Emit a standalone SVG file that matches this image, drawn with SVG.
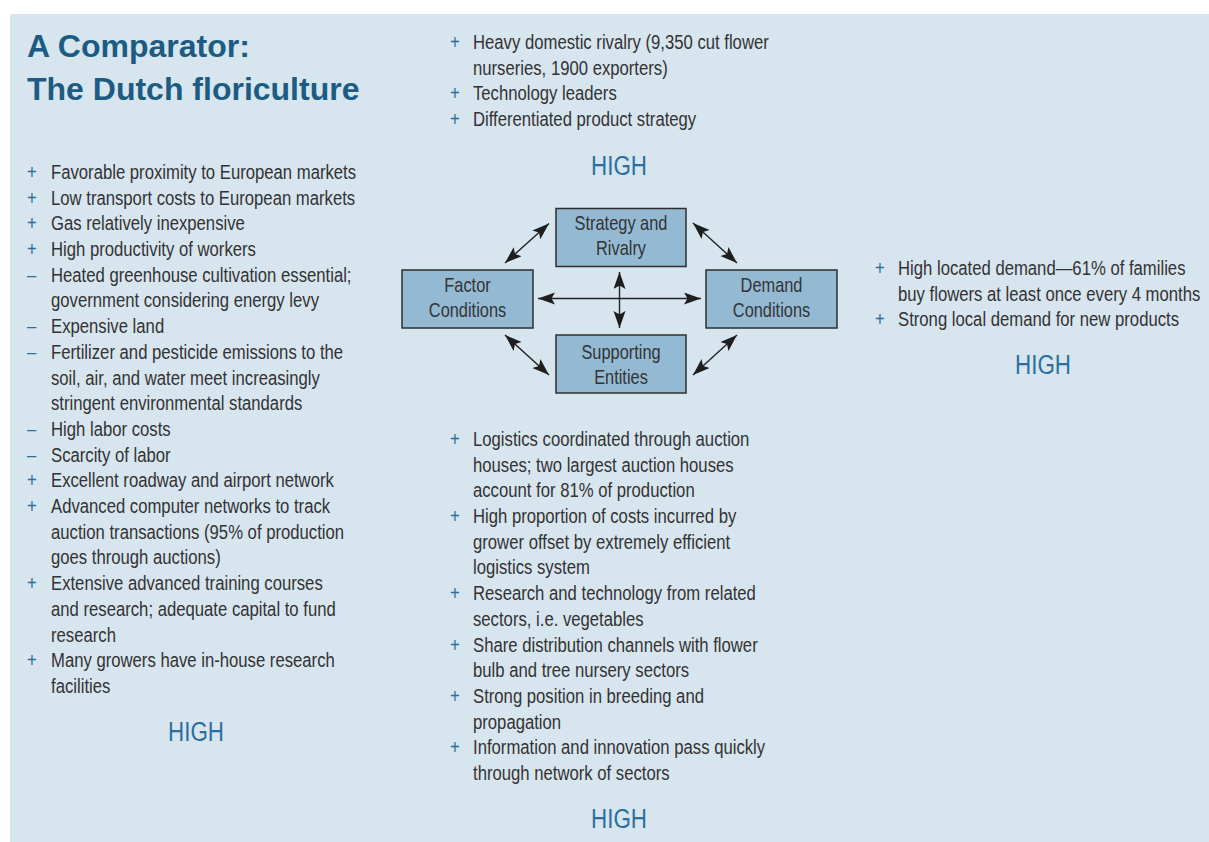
<svg xmlns="http://www.w3.org/2000/svg" width="1209" height="842" viewBox="0 0 1209 842">
  <style>
    .title { font-family: "Liberation Sans", Arial, sans-serif; font-weight: bold; font-size: 32px; fill: #1d5c82; }
    .body { font-family: "Liberation Sans", Arial, sans-serif; font-size: 20px; fill: #333333; }
    .bullet { font-family: "Liberation Sans", Arial, sans-serif; font-size: 20px; fill: #2b6e99; }
    .high { font-family: "Liberation Sans", Arial, sans-serif; font-size: 28px; fill: #2c6f9c; text-anchor: middle; }
    .box { fill: #94bad3; stroke: #2e2e2e; stroke-width: 1.5; }
    .label { font-family: "Liberation Sans", Arial, sans-serif; font-size: 20px; fill: #333; text-anchor: middle; }
    .link { stroke: #222; stroke-width: 1.4; fill: none; marker-start: url(#head); marker-end: url(#head); }
  </style>
  <defs>
    <marker id="head" markerUnits="userSpaceOnUse" markerWidth="18" markerHeight="13" refX="17" refY="6" orient="auto-start-reverse">
      <path d="M0,0 L17,6 L0,12 L3.5,6 z" fill="#1e1e1e"/>
    </marker>
  </defs>

  <rect x="0" y="0" width="1209" height="842" fill="#ffffff"/>
  <rect x="10" y="14" width="1199" height="828" fill="#d7e5ef"/>

  <!-- heading -->
  <g id="heading">
    <text class="title" x="27" y="57">A Comparator:</text>
    <text class="title" x="27" y="100">The Dutch floriculture</text>
  </g>

  <!-- strategy and rivalry notes (top) -->
  <g id="notes-strategy">
    <g transform="translate(450 0) scale(0.835 1)" class="bullet">
      <text x="0" y="49">+</text>
      <text x="0" y="100.4">+</text>
      <text x="0" y="126.1">+</text>
    </g>
    <g transform="translate(473 0) scale(0.835 1)">
      <text class="body" x="0" y="49">Heavy domestic rivalry (9,350 cut flower</text>
      <text class="body" x="0" y="74.7">nurseries, 1900 exporters)</text>
      <text class="body" x="0" y="100.4">Technology leaders</text>
      <text class="body" x="0" y="126.1">Differentiated product strategy</text>
    </g>
    <text class="high" transform="translate(619 175) scale(0.8 1)">HIGH</text>
  </g>

  <!-- factor conditions notes (left) -->
  <g id="notes-factor">
    <g transform="translate(27 0) scale(0.835 1)" class="bullet">
      <text x="0" y="179">+</text>
      <text x="0" y="204.7">+</text>
      <text x="0" y="230.4">+</text>
      <text x="0" y="256.1">+</text>
      <text x="0" y="281.8">–</text>
      <text x="0" y="333.2">–</text>
      <text x="0" y="358.9">–</text>
      <text x="0" y="436">–</text>
      <text x="0" y="461.7">–</text>
      <text x="0" y="487.4">+</text>
      <text x="0" y="513.1">+</text>
      <text x="0" y="590.2">+</text>
      <text x="0" y="667.3">+</text>
    </g>
    <g transform="translate(51 0) scale(0.835 1)">
      <text class="body" x="0" y="179">Favorable proximity to European markets</text>
      <text class="body" x="0" y="204.7">Low transport costs to European markets</text>
      <text class="body" x="0" y="230.4">Gas relatively inexpensive</text>
      <text class="body" x="0" y="256.1">High productivity of workers</text>
      <text class="body" x="0" y="281.8">Heated greenhouse cultivation essential;</text>
      <text class="body" x="0" y="307.5">government considering energy levy</text>
      <text class="body" x="0" y="333.2">Expensive land</text>
      <text class="body" x="0" y="358.9">Fertilizer and pesticide emissions to the</text>
      <text class="body" x="0" y="384.6">soil, air, and water meet increasingly</text>
      <text class="body" x="0" y="410.3">stringent environmental standards</text>
      <text class="body" x="0" y="436">High labor costs</text>
      <text class="body" x="0" y="461.7">Scarcity of labor</text>
      <text class="body" x="0" y="487.4">Excellent roadway and airport network</text>
      <text class="body" x="0" y="513.1">Advanced computer networks to track</text>
      <text class="body" x="0" y="538.8">auction transactions (95% of production</text>
      <text class="body" x="0" y="564.5">goes through auctions)</text>
      <text class="body" x="0" y="590.2">Extensive advanced training courses</text>
      <text class="body" x="0" y="615.9">and research; adequate capital to fund</text>
      <text class="body" x="0" y="641.6">research</text>
      <text class="body" x="0" y="667.3">Many growers have in-house research</text>
      <text class="body" x="0" y="693">facilities</text>
    </g>
    <text class="high" transform="translate(196 741) scale(0.8 1)">HIGH</text>
  </g>

  <!-- demand conditions notes (right) -->
  <g id="notes-demand">
    <g transform="translate(875 0) scale(0.835 1)" class="bullet">
      <text x="0" y="275">+</text>
      <text x="0" y="326.4">+</text>
    </g>
    <g transform="translate(898 0) scale(0.835 1)">
      <text class="body" x="0" y="275">High located demand—61% of families</text>
      <text class="body" x="0" y="300.7">buy flowers at least once every 4 months</text>
      <text class="body" x="0" y="326.4">Strong local demand for new products</text>
    </g>
    <text class="high" transform="translate(1043 374) scale(0.8 1)">HIGH</text>
  </g>

  <!-- supporting entities notes (bottom) -->
  <g id="notes-supporting">
    <g transform="translate(450 0) scale(0.835 1)" class="bullet">
      <text x="0" y="446">+</text>
      <text x="0" y="523.1">+</text>
      <text x="0" y="600.2">+</text>
      <text x="0" y="651.6">+</text>
      <text x="0" y="703">+</text>
      <text x="0" y="754.4">+</text>
    </g>
    <g transform="translate(473 0) scale(0.835 1)">
      <text class="body" x="0" y="446">Logistics coordinated through auction</text>
      <text class="body" x="0" y="471.7">houses; two largest auction houses</text>
      <text class="body" x="0" y="497.4">account for 81% of production</text>
      <text class="body" x="0" y="523.1">High proportion of costs incurred by</text>
      <text class="body" x="0" y="548.8">grower offset by extremely efficient</text>
      <text class="body" x="0" y="574.5">logistics system</text>
      <text class="body" x="0" y="600.2">Research and technology from related</text>
      <text class="body" x="0" y="625.9">sectors, i.e. vegetables</text>
      <text class="body" x="0" y="651.6">Share distribution channels with flower</text>
      <text class="body" x="0" y="677.3">bulb and tree nursery sectors</text>
      <text class="body" x="0" y="703">Strong position in breeding and</text>
      <text class="body" x="0" y="728.7">propagation</text>
      <text class="body" x="0" y="754.4">Information and innovation pass quickly</text>
      <text class="body" x="0" y="780.1">through network of sectors</text>
    </g>
    <text class="high" transform="translate(619 828) scale(0.8 1)">HIGH</text>
  </g>

  <!-- connectors between the four determinants -->
  <g id="connectors">
    <line class="link" x1="538" y1="298.5" x2="701" y2="298.5"/>
    <line class="link" x1="619.5" y1="272" x2="619.5" y2="328"/>
    <line class="link" x1="505" y1="263" x2="549" y2="223.5"/>
    <line class="link" x1="693" y1="223" x2="737" y2="263"/>
    <line class="link" x1="505" y1="335" x2="549" y2="375"/>
    <line class="link" x1="737" y1="335" x2="693" y2="375"/>
  </g>

  <!-- determinant boxes -->
  <g id="node-strategy">
    <rect class="box" x="556" y="208.5" width="130" height="58"/>
    <g transform="translate(621 0) scale(0.82 1)">
      <text class="label" x="0" y="230">Strategy and</text>
      <text class="label" x="0" y="255">Rivalry</text>
    </g>
  </g>
  <g id="node-factor">
    <rect class="box" x="402" y="270" width="131" height="58"/>
    <g transform="translate(467.5 0) scale(0.82 1)">
      <text class="label" x="0" y="292.5">Factor</text>
      <text class="label" x="0" y="317.5">Conditions</text>
    </g>
  </g>
  <g id="node-demand">
    <rect class="box" x="706" y="270" width="131" height="58"/>
    <g transform="translate(771.5 0) scale(0.82 1)">
      <text class="label" x="0" y="292.5">Demand</text>
      <text class="label" x="0" y="317.5">Conditions</text>
    </g>
  </g>
  <g id="node-supporting">
    <rect class="box" x="556" y="335" width="130" height="58"/>
    <g transform="translate(621 0) scale(0.82 1)">
      <text class="label" x="0" y="359.5">Supporting</text>
      <text class="label" x="0" y="384">Entities</text>
    </g>
  </g>
</svg>
